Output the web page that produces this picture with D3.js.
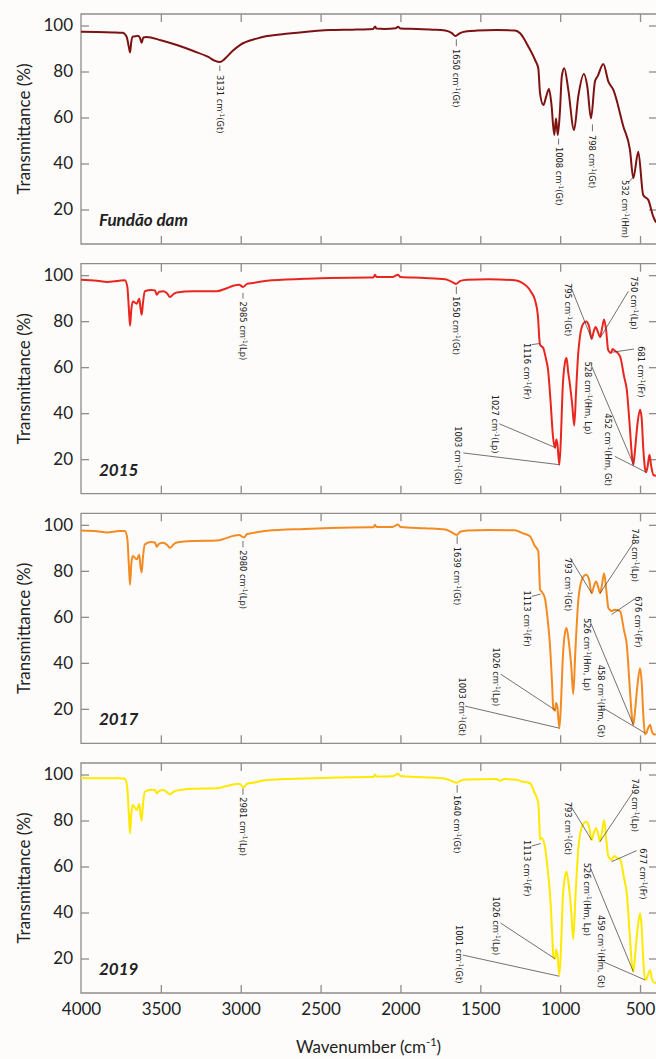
<!DOCTYPE html>
<html>
<head>
<meta charset="utf-8">
<script src="https://cdn.jsdelivr.net/npm/d3@7"></script>
<style>
  body { margin: 0; background: #fdfcfa; }
  svg { display: block; }
</style>
</head>
<body>
<svg width="656" height="1059"></svg>
<script>
// axis ticks
const wavenumberTicks = [4000, 3500, 3000, 2500, 2000, 1500, 1000, 500];
const transmittanceTicks = [20, 40, 60, 80, 100];

// sample names (one panel each) and line colours
const samples = ["Fundão dam", "2015", "2017", "2019"];
const sampleColors = ["#7d1212", "#e8261f", "#f38b22", "#ffe900"];

// spectra: [wavenumber (cm-1), transmittance (%)]
const spectrumFundao = [
  [4000, 97.3], [3900, 97.2], [3800, 97.0], [3740, 96.8], [3715, 95.2], [3700, 90.5], [3693, 88.3],
  [3685, 93], [3675, 95.2], [3660, 95.3], [3645, 95.5], [3632, 94.8], [3620, 92.5], [3610, 94.8],
  [3590, 95], [3500, 93.6], [3400, 91.5], [3300, 89], [3200, 86.2], [3160, 84.6], [3131, 84.1],
  [3100, 85.5], [3050, 89], [3005, 91.5], [2900, 94.3], [2836, 95.4], [2700, 96.5], [2629, 97],
  [2441, 98], [2300, 98.2], [2200, 98.4], [2170, 98.5], [2159, 99.6], [2150, 98.7], [2100, 98.5],
  [2030, 98.8], [2015, 99.5], [2000, 98.7], [1900, 98.5], [1800, 98.2], [1720, 97.8], [1680, 96.8],
  [1655, 95.4], [1630, 96.6], [1580, 97.5], [1521, 97.8], [1400, 98], [1283, 97.8], [1251, 96.6],
  [1199, 90.8], [1157, 85], [1137, 81.4], [1126, 70.5], [1105, 65.4], [1088, 69], [1070, 72.4],
  [1055, 66], [1037, 52.4], [1026, 59.6], [1015, 52.4], [1001, 63.3], [990, 77.7], [974, 81.4],
  [949, 72], [913, 54.6], [887, 69], [851, 78.9], [830, 73.4], [807, 59.6], [782, 75.8], [765, 78],
  [730, 83.3], [698, 75.6], [667, 72], [604, 56], [563, 45.9], [542, 33.6], [511, 45.1], [480, 26.3],
  [448, 24.1], [417, 16.9], [400, 14.3]
];

const spectrum2015 = [
  [4000, 98], [3900, 97.6], [3837, 97], [3760, 97.6], [3725, 97.8], [3710, 95], [3700, 85], [3693, 78],
  [3685, 85], [3676, 88.6], [3651, 87.6], [3635, 89.8], [3628, 86], [3620, 82.8], [3612, 88], [3600, 93],
  [3560, 93.6], [3537, 93.4], [3526, 91.5], [3510, 92.8], [3484, 93], [3460, 92], [3443, 90.5],
  [3420, 91.8], [3401, 92.5], [3300, 93], [3150, 93], [3100, 94], [3047, 95.4], [3010, 95.8],
  [2985, 94.9], [2960, 96.2], [2922, 96.6], [2836, 97.6], [2600, 98.4], [2441, 98.8], [2200, 99],
  [2170, 99], [2159, 100.2], [2150, 99.2], [2050, 99.2], [2015, 100.2], [2000, 99.2], [1850, 98.8],
  [1720, 98.2], [1680, 97.2], [1652, 96.2], [1625, 97.5], [1580, 98], [1450, 98.2], [1283, 97.8],
  [1240, 96.8], [1208, 95.1], [1180, 92.5], [1158, 89.3], [1139, 82], [1130, 72], [1126, 69.8],
  [1116, 69], [1107, 68.5], [1090, 64], [1076, 58.9], [1060, 45], [1045, 29.9], [1032, 24.9],
  [1024, 28.5], [1018, 27], [1005, 17.6], [995, 30], [985, 50], [970, 62], [960, 64], [950, 58],
  [940, 53.1], [925, 44], [912, 34.6], [900, 50], [887, 66], [876, 73.4], [855, 79], [838, 79.9],
  [820, 78], [803, 72.3], [790, 75.5], [778, 77.5], [765, 75.5], [750, 73.1], [740, 76], [725, 80.7],
  [712, 76], [700, 67.6], [690, 66.5], [681, 66.2], [672, 67.9], [660, 67.3], [625, 64.7], [600, 56],
  [583, 50.2], [565, 35], [550, 21], [542, 17.6], [530, 25], [515, 36], [500, 41.5], [490, 38],
  [480, 25], [470, 16.5], [462, 14.3], [452, 17], [441, 21.9], [430, 17], [415, 13], [400, 12.8]
];

const spectrum2017 = [
  [4000, 97.5], [3900, 97.2], [3837, 96.7], [3760, 97.3], [3725, 97.3], [3710, 94], [3700, 82], [3693, 74],
  [3685, 83], [3676, 86.5], [3651, 85], [3635, 87], [3628, 82], [3620, 79.3], [3612, 86], [3600, 91.5],
  [3560, 92.5], [3537, 92.3], [3526, 90.5], [3510, 91.8], [3484, 92.2], [3460, 91.2], [3443, 90],
  [3420, 91.5], [3401, 92.3], [3300, 93], [3150, 93.2], [3100, 94], [3047, 95.2], [3010, 95.6],
  [2980, 94.5], [2960, 96], [2922, 96.5], [2836, 97.4], [2600, 98.2], [2441, 98.6], [2200, 98.9],
  [2170, 98.9], [2159, 100], [2150, 99.1], [2050, 99.1], [2015, 100.1], [2000, 99.1], [1850, 98.5],
  [1720, 98], [1680, 96.8], [1648, 95.6], [1625, 97], [1580, 97.5], [1450, 97.8], [1283, 97.6],
  [1240, 96.5], [1189, 95], [1160, 91], [1137, 88.5], [1130, 78], [1126, 71.8], [1116, 71],
  [1095, 67.9], [1080, 60], [1064, 47.9], [1050, 30], [1043, 20.3], [1032, 19.2], [1026, 22.5],
  [1018, 21], [1005, 11.6], [995, 22], [985, 40], [970, 53], [960, 55.1], [945, 48.6], [930, 38],
  [918, 26.4], [905, 45], [887, 66.7], [865, 76], [838, 78.3], [820, 76.5], [803, 70.3], [790, 73],
  [775, 75.4], [762, 73], [750, 70.3], [738, 74], [725, 79], [712, 72], [698, 63.8], [688, 63],
  [678, 62.4], [663, 63.1], [645, 63], [625, 62.4], [600, 54], [583, 47.9], [565, 30], [550, 16],
  [542, 13.1], [530, 20], [515, 31], [500, 37.7], [490, 32], [480, 18], [469, 9], [460, 9.5],
  [450, 11.5], [437, 13.1], [425, 10], [410, 8.8], [400, 9]
];

const spectrum2019 = [
  [4000, 98.5], [3900, 98.4], [3760, 98.4], [3725, 98.2], [3710, 94], [3700, 82], [3693, 74.4],
  [3685, 83], [3676, 86.7], [3651, 84.6], [3635, 87.2], [3628, 83], [3620, 80], [3612, 87], [3600, 92.5],
  [3560, 93.4], [3537, 93.3], [3526, 91.8], [3510, 92.9], [3484, 93.3], [3460, 92.2], [3443, 91.4],
  [3420, 92.5], [3401, 93], [3300, 93.8], [3150, 94], [3100, 94.8], [3047, 95.7], [3010, 96],
  [2981, 94.4], [2960, 96], [2922, 96.4], [2836, 97.6], [2600, 98.3], [2441, 98.6], [2200, 98.9],
  [2170, 98.9], [2159, 100], [2150, 99.1], [2050, 99.2], [2015, 100.3], [2000, 99.3], [1850, 98.8],
  [1720, 98.2], [1680, 97.2], [1648, 96.4], [1625, 97.3], [1580, 97.8], [1400, 98], [1376, 97.3],
  [1350, 98], [1283, 97.8], [1240, 97], [1189, 96.2], [1160, 92], [1137, 87.6], [1130, 78],
  [1126, 71.7], [1116, 72.4], [1095, 68.4], [1080, 60], [1064, 48.4], [1050, 31], [1043, 20.9],
  [1032, 19.9], [1026, 23.9], [1018, 22], [1005, 12.8], [995, 24], [985, 44], [970, 55.5], [960, 57.7],
  [945, 51.2], [930, 40], [918, 28.4], [905, 46], [887, 67.2], [865, 77], [838, 79.5], [820, 77.5],
  [803, 71.5], [790, 74.5], [775, 76.6], [762, 74], [750, 71], [738, 75], [725, 80.2], [712, 72],
  [698, 64.3], [688, 63.5], [678, 62.8], [663, 64.6], [645, 63.8], [625, 63.2], [600, 55], [583, 48.4],
  [565, 31], [550, 17], [542, 14.2], [530, 22], [515, 33], [500, 39.6], [490, 34], [480, 20],
  [469, 10.7], [460, 11], [450, 13], [437, 15], [425, 11], [410, 9.5], [400, 9.5]
];

// band assignments: peak label, phase, label anchor and leader [from, to] in data units
const bandsFundao = [
  { peak: "3131", phase: "Gt", at: [3131, 78.5], leader: [[3131, 82.6], [3131, 80.2]] },
  { peak: "1650", phase: "Gt", at: [1650, 89.8], leader: [[1650, 94], [1650, 91]] },
  { peak: "1008", phase: "Gt", at: [1010, 47.2], leader: [[1010, 50.8], [1010, 48.2]] },
  { peak: "798", phase: "Gt", at: [798, 52.4], leader: [[798, 57], [798, 54]] },
  { peak: "532", phase: "Hm", at: [594, 32.8], leader: [[569, 32], [544, 34]] }
];
const bands2015 = [
  { peak: "2985", phase: "Lp", at: [2986, 88.6], leader: [[2986, 92.3], [2986, 89.8]] },
  { peak: "1650", phase: "Gt", at: [1650, 90.8], leader: [[1650, 95], [1650, 91.8]] },
  { peak: "1116", phase: "Fr", at: [1208, 70.5], leader: [[1178, 69.8], [1126, 70.3]] },
  { peak: "1027", phase: "Lp", at: [1410, 48], leader: [[1381, 35.4], [1030, 25]] },
  { peak: "1003", phase: "Gt", at: [1638, 34.3], leader: [[1606, 22.7], [1005, 17.6]] },
  { peak: "795", phase: "Gt", at: [949, 96.6], leader: [[934, 95.1], [803, 72.3]] },
  { peak: "750", phase: "Lp", at: [538, 99.5], leader: [[573, 93], [746, 73.1]] },
  { peak: "681", phase: "Fr", at: [497, 69.1], leader: [[538, 67.9], [672, 66.5]] },
  { peak: "528", phase: "Hm, Lp", at: [824, 62.5], leader: [[807, 61.1], [540, 17.6]] },
  { peak: "452", phase: "Hm, Gt", at: [703, 40], leader: [[657, 21.2], [462, 14.3]] }
];
const bands2017 = [
  { peak: "2980", phase: "Lp", at: [2986, 89], leader: [[2986, 93], [2986, 90.2]] },
  { peak: "1639", phase: "Gt", at: [1645, 90.5], leader: [[1645, 95], [1645, 91.7]] },
  { peak: "1113", phase: "Fr", at: [1208, 71.5], leader: [[1178, 68.9], [1122, 69.9]] },
  { peak: "1026", phase: "Lp", at: [1402, 46.7], leader: [[1373, 35.1], [1032, 19.5]] },
  { peak: "1003", phase: "Gt", at: [1612, 33.6], leader: [[1596, 21.2], [1005, 11.6]] },
  { peak: "793", phase: "Gt", at: [949, 85.6], leader: [[938, 85.6], [803, 70.3]] },
  { peak: "748", phase: "Lp", at: [531, 98.4], leader: [[542, 92.1], [750, 70.3]] },
  { peak: "676", phase: "Fr", at: [511, 68.9], leader: [[531, 67.9], [678, 61]] },
  { peak: "526", phase: "Hm, Lp", at: [834, 59.5], leader: [[813, 58.1], [542, 13.1]] },
  { peak: "458", phase: "Hm, Gt", at: [747, 39.2], leader: [[730, 20.3], [469, 9.5]] }
];
const bands2019 = [
  { peak: "2981", phase: "Lp", at: [2986, 90.1], leader: [[2986, 94], [2986, 91.2]] },
  { peak: "1640", phase: "Gt", at: [1645, 91.1], leader: [[1645, 95.4], [1645, 92.1]] },
  { peak: "1113", phase: "Fr", at: [1208, 71.5], leader: [[1178, 68.9], [1122, 70]] },
  { peak: "1026", phase: "Lp", at: [1402, 47], leader: [[1373, 35.4], [1032, 19.9]] },
  { peak: "1001", phase: "Gt", at: [1636, 34.6], leader: [[1610, 21.5], [1005, 12.3]] },
  { peak: "793", phase: "Gt", at: [949, 88.2], leader: [[938, 86.8], [803, 71.5]] },
  { peak: "749", phase: "Lp", at: [534, 98.3], leader: [[542, 92.5], [751, 70.8]] },
  { peak: "677", phase: "Fr", at: [480, 67.9], leader: [[521, 66.9], [678, 62.1]] },
  { peak: "526", phase: "Hm, Lp", at: [834, 61.6], leader: [[813, 59.8], [542, 14.3]] },
  { peak: "459", phase: "Hm, Gt", at: [747, 38.9], leader: [[730, 18.6], [469, 10.7]] }
];

const spectra = [spectrumFundao, spectrum2015, spectrum2017, spectrum2019];
const bandSets = [bandsFundao, bands2015, bands2017, bands2019];

// layout
const left = 81, right = 656, frameRight = 657;
const panelTop = 14, panelHeight = 230, panelStep = 249.67;
const frameColor = "#8d8d8d";
const mainFont = "Lato, 'Open Sans', sans-serif";

const svg = d3.select("svg");

const x = d3.scaleLinear().domain([4000, 400]).range([left, right]);

samples.forEach((name, i) => {
  const top = panelTop + i * panelStep;
  const bottom = top + panelHeight;
  const y = d3.scaleLinear().domain([5, 105]).range([bottom, top]);
  const g = svg.append("g");

  // frame
  g.append("path")
    .attr("d", `M${frameRight},${top}H${left}V${bottom}H${frameRight}`)
    .attr("fill", "none").attr("stroke", frameColor).attr("stroke-width", 1.3);

  // inward ticks on all four sides
  const styleAxis = (sel) => {
    sel.select(".domain").remove();
    sel.selectAll(".tick line").attr("stroke", frameColor).attr("stroke-width", 1.3);
    sel.selectAll("text").attr("font-size", 17).attr("font-family", mainFont).attr("fill", "#222");
  };
  g.append("g").attr("transform", `translate(${left},0)`)
    .call(d3.axisLeft(y).tickValues(transmittanceTicks).tickSize(-8).tickPadding(8))
    .call(styleAxis);
  g.append("g").attr("transform", `translate(${frameRight},0)`)
    .call(d3.axisRight(y).tickValues(transmittanceTicks).tickSize(-8).tickFormat(""))
    .call(styleAxis);
  g.append("g").attr("transform", `translate(0,${top})`)
    .call(d3.axisTop(x).tickValues(wavenumberTicks.slice(1)).tickSize(-8).tickFormat(""))
    .call(styleAxis);
  const bottomAxis = g.append("g").attr("transform", `translate(0,${bottom})`)
    .call(d3.axisBottom(x).tickValues(wavenumberTicks).tickSize(-8).tickPadding(10)
      .tickFormat(i === samples.length - 1 ? d3.format("d") : ""))
    .call(styleAxis);
  bottomAxis.selectAll(".tick").filter(d => d === 4000).select("line").remove();

  // y title
  g.append("text")
    .attr("transform", `translate(23,${(top + bottom) / 2}) rotate(-90)`)
    .attr("text-anchor", "middle").attr("dominant-baseline", "central")
    .attr("font-family", mainFont).attr("font-size", 17).attr("fill", "#222")
    .text("Transmittance (%)");

  // spectrum
  const clipId = `clip${i}`;
  g.append("clipPath").attr("id", clipId)
    .append("rect").attr("x", left).attr("y", top).attr("width", frameRight - left).attr("height", panelHeight);
  const line = d3.line()
    .x(d => x(d[0])).y(d => y(d[1]))
    .curve(d3.curveMonotoneX);
  g.append("path")
    .datum(spectra[i])
    .attr("clip-path", `url(#${clipId})`)
    .attr("d", line)
    .attr("fill", "none")
    .attr("stroke", sampleColors[i])
    .attr("stroke-width", 2)
    .attr("stroke-linejoin", "round");

  // band labels with leaders
  bandSets[i].forEach(b => {
    g.append("line")
      .attr("x1", x(b.leader[0][0])).attr("y1", y(b.leader[0][1]))
      .attr("x2", x(b.leader[1][0])).attr("y2", y(b.leader[1][1]))
      .attr("stroke", "#444").attr("stroke-width", 0.75);
    const t = g.append("text")
      .attr("transform", `translate(${x(b.at[0])},${y(b.at[1])}) rotate(90)`)
      .attr("dominant-baseline", "central")
      .attr("font-family", "'DejaVu Sans', Verdana, sans-serif")
      .attr("font-size", 8.3)
      .attr("fill", "#222");
    t.append("tspan").text(`${b.peak} cm`);
    t.append("tspan").attr("dy", -3).attr("font-size", 6).text("-1");
    t.append("tspan").attr("dy", 3).text(`(${b.phase})`);
  });

  // sample label
  g.append("text")
    .attr("x", 99).attr("y", bottom - 18)
    .attr("font-family", mainFont)
    .attr("font-size", 17).attr("font-weight", "bold").attr("font-style", "italic")
    .attr("fill", "#222")
    .text(name);
});

// x title
const xTitle = svg.append("text")
  .attr("x", (left + right) / 2).attr("y", 1053)
  .attr("text-anchor", "middle")
  .attr("font-family", mainFont).attr("font-size", 17).attr("fill", "#222");
xTitle.append("tspan").text("Wavenumber (cm");
xTitle.append("tspan").attr("dy", -7).attr("font-size", 11).text("-1");
xTitle.append("tspan").attr("dy", 7).text(")");
</script>
</body>
</html>
